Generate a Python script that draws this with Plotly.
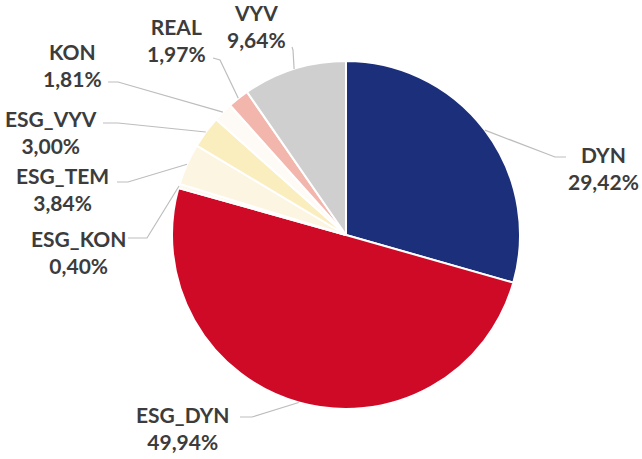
import math
import plotly.graph_objects as go

# ---- data ----
categories = ["DYN", "ESG_DYN", "ESG_KON", "ESG_TEM", "ESG_VYV", "KON", "REAL", "VYV"]
shares = [29.42, 49.94, 0.40, 3.84, 3.00, 1.81, 1.97, 9.64]

# ---- styles ----
colors = ["#1C2F7A", "#CE0A26", "#FEF9EE", "#FCF5E2", "#FAEEBF", "#FEFBF6", "#F2B6AC", "#CFCFCF"]

W, H = 642, 459
CX, CY, R = 346, 235, 174   # pie centre / radius in pixels

# label centres (px) and leader-line ends at the label side (px)
label_pos = {
    "DYN": (603, 168),
    "ESG_DYN": (183, 428),
    "ESG_KON": (78, 252),
    "ESG_TEM": (62, 189),
    "ESG_VYV": (51, 132),
    "KON": (72, 65),
    "REAL": (177, 40),
    "VYV": (256, 26),
}
leader_end = {
    "DYN": [(566, 157), (555, 157)],
    "ESG_DYN": [(240, 417), (252, 417)],
    "ESG_KON": [(128, 238), (147, 238)],
    "ESG_TEM": [(117, 182), (128, 182)],
    "ESG_VYV": [(103, 123), (118, 123)],
    "KON": [(108, 82), (118, 82)],
    "REAL": [(213, 58), (220, 60)],
    "VYV": [(292, 47), (293, 50)],
}

def px(x, y):
    return x / W, 1 - y / H

fig = go.Figure()
fig.add_trace(go.Pie(
    labels=categories,
    values=shares,
    sort=False,
    direction="clockwise",
    rotation=0,
    textinfo="none",
    hoverinfo="label+percent",
    marker=dict(colors=colors, line=dict(color="white", width=2)),
    domain=dict(x=[(CX - R) / W, (CX + R) / W], y=[1 - (CY + R) / H, 1 - (CY - R) / H]),
    showlegend=False,
))

total = sum(shares)
cum = 0.0
shapes = []
annotations = []
for cat, v in zip(categories, shares):
    mid = (cum + v / 2) / total * 2 * math.pi
    cum += v
    rx = CX + R * math.sin(mid)
    ry = CY - R * math.cos(mid)
    pts = leader_end[cat] + [(rx, ry)]
    path = "M " + " L ".join(f"{px(x, y)[0]},{px(x, y)[1]}" for x, y in pts)
    shapes.append(dict(type="path", xref="paper", yref="paper", path=path,
                       line=dict(color="#BDBDBD", width=1.2)))
    lx, ly = label_pos[cat]
    ax_, ay_ = px(lx, ly)
    pct = f"{v:.2f}".replace(".", ",") + "%"
    annotations.append(dict(
        x=ax_, y=ay_, xref="paper", yref="paper", showarrow=False,
        xanchor="center", yanchor="middle", align="center",
        text=f"<b>{cat}<br>{pct}</b>",
        font=dict(family="Lato", size=21, color="#3C3C3C"),
    ))

fig.update_layout(
    width=W, height=H,
    margin=dict(l=0, r=0, t=0, b=0),
    paper_bgcolor="white", plot_bgcolor="white",
    shapes=shapes, annotations=annotations,
)

fig.write_html("out.html", config={"displayModeBar": False},
               post_script="document.body.style.margin='0px';")
